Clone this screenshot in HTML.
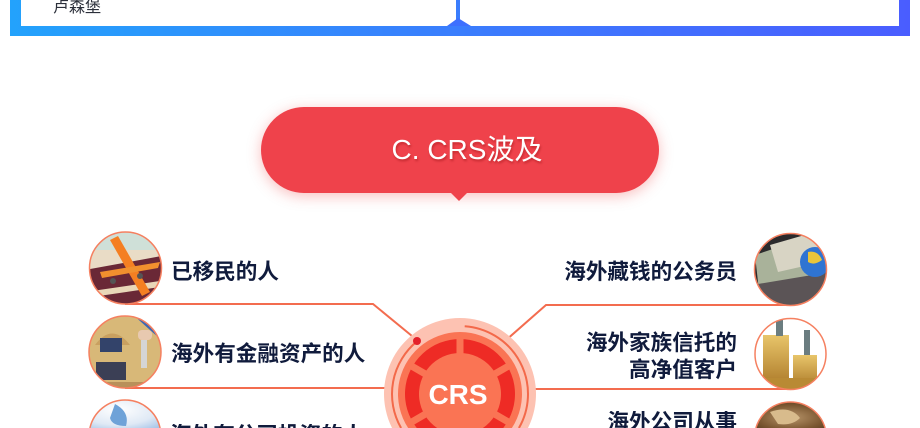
<!DOCTYPE html>
<html>
<head>
<meta charset="utf-8">
<style>
  html,body{margin:0;padding:0;width:920px;height:428px;overflow:hidden;}
  body{background:#fff;font-family:"Liberation Sans","Noto Sans CJK SC",sans-serif;}
  #wrap{position:relative;width:920px;height:428px;overflow:hidden;background:#fff;}
  .abs{position:absolute;}
  .band{left:10px;top:0;width:900px;height:36px;
    background:linear-gradient(90deg,#23a2fc 0%,#3a7dfd 50%,#4a5dff 100%);}
  .wp{background:#fff;top:0;height:26px;}
  .t{position:absolute;font-family:"Liberation Sans","Noto Sans CJK SC",sans-serif;
    font-weight:700;font-size:21.6px;line-height:22px;color:#101b3c;white-space:nowrap;}
  .r{text-align:right;right:183px;}
  .pill{left:261px;top:107px;width:398px;height:86px;border-radius:43px;background:#ef424b;
    box-shadow:0 3px 14px rgba(236,70,70,0.35);}
  .ptxt{left:261px;top:107px;width:398px;height:86px;line-height:86px;text-align:center;
    color:#fff;font-size:28px;padding-left:14px;box-sizing:border-box;
    font-family:"Liberation Sans","Noto Sans CJK SC",sans-serif;
    text-shadow:1px 2px 2px rgba(120,0,0,0.35);}
</style>
</head>
<body>
<div id="wrap">
<!-- top frame -->
<div class="abs band"></div>
<div class="abs wp" style="left:21px;width:435px;"></div>
<div class="abs wp" style="left:460px;width:439px;"></div>
<svg class="abs" style="left:0;top:0" width="920" height="40">
  <polygon points="447,26 458,18 471,26" fill="#3d6ffe"/>
</svg>
<div class="abs" style="left:53px;top:0;height:18px;overflow:hidden;font-size:16px;line-height:16px;color:#2b2f3a;font-family:'Liberation Sans','Noto Sans CJK SC',sans-serif;">卢森堡</div>

<!-- pill -->
<div class="abs pill"></div>
<svg class="abs" style="left:0;top:0" width="920" height="428">
  <polygon points="450,192 468,192 459,201" fill="#ef424b"/>
</svg>
<div class="abs ptxt">C. CRS波及</div>

<!-- diagram graphics -->
<svg class="abs" style="left:0;top:0" width="920" height="428" overflow="hidden">
  <defs>
    <clipPath id="cl1"><circle cx="125.5" cy="268" r="36"/></clipPath>
    <clipPath id="cl2"><circle cx="125" cy="352" r="36"/></clipPath>
    <clipPath id="cl3"><path d="M89.9 428 A36 36 0 0 1 160.1 428 Z"/></clipPath>
    <clipPath id="cr1"><circle cx="790.5" cy="269.5" r="36"/></clipPath>
    <clipPath id="cr2"><circle cx="790.5" cy="354" r="35.5"/></clipPath>
    <clipPath id="cr3"><path d="M755.9 428 A36 36 0 0 1 825.1 428 Z"/></clipPath>
    <radialGradient id="globe" cx="0.4" cy="0.35" r="0.9">
      <stop offset="0" stop-color="#ffffff"/>
      <stop offset="0.6" stop-color="#dfe9f5"/>
      <stop offset="1" stop-color="#9fc0e6"/>
    </radialGradient>
    <radialGradient id="bronze" cx="0.5" cy="0.6" r="0.8">
      <stop offset="0" stop-color="#b8956a"/>
      <stop offset="0.6" stop-color="#7a5630"/>
      <stop offset="1" stop-color="#4a321a"/>
    </radialGradient>
    <linearGradient id="gold" x1="0" y1="0" x2="0" y2="1">
      <stop offset="0" stop-color="#e8c56a"/>
      <stop offset="1" stop-color="#a87424"/>
    </linearGradient>
  </defs>

  <!-- connector lines -->
  <g stroke="#f36c4f" stroke-width="2" fill="none">
    <path d="M125 304 H373 L412 336"/>
    <path d="M125 388 H400"/>
    <path d="M795 305 H546 L505 341"/>
    <path d="M795 389 H520"/>
  </g>

  <!-- left photo 1: plane over passports -->
  <g clip-path="url(#cl1)">
    <rect x="85" y="228" width="82" height="82" fill="#e9dcc6"/>
    <rect x="85" y="228" width="82" height="22" fill="#cfe0d8"/>
    <polygon points="85,270 167,255 167,310 85,310" fill="#6a2836"/>
    <polygon points="85,292 167,280 167,286 85,298" fill="#e9d7b8"/>
    <polygon points="110,240 118,236 150,292 142,296" fill="#f47f22"/>
    <polygon points="100,272 160,262 158,268 102,278" fill="#f1902e"/>
    <circle cx="113" cy="281" r="3" fill="#555"/>
    <circle cx="140" cy="276" r="3" fill="#555"/>
  </g>
  <circle cx="125.5" cy="268" r="36" fill="none" stroke="#f58060" stroke-width="1.5"/>

  <!-- left photo 2: house with key -->
  <g clip-path="url(#cl2)">
    <rect x="85" y="312" width="82" height="82" fill="#d8b878"/>
    <polygon points="130,312 167,312 167,345 150,330" fill="#3d67b3"/>
    <path d="M95 345 Q112 322 130 345 Z" fill="#c9a060"/>
    <rect x="100" y="338" width="22" height="14" fill="#33436a"/>
    <rect x="96" y="362" width="30" height="18" fill="#3b3f55"/>
    <rect x="85" y="382" width="82" height="12" fill="#b8905a"/>
    <rect x="138" y="330" width="14" height="10" rx="4" fill="#e8c9b0"/>
    <rect x="141" y="340" width="6" height="28" fill="#d5d5d5"/>
  </g>
  <circle cx="125" cy="352" r="36" fill="none" stroke="#f58060" stroke-width="1.5"/>

  <!-- left photo 3: globe (cut at bottom edge) -->
  <path d="M89.9 428 A36 36 0 0 1 160.1 428 Z" fill="url(#globe)"/>
  <g clip-path="url(#cl3)">
    <path d="M115 404 Q130 412 126 426 Q112 426 110 418 Z" fill="#6ea2d8"/>
  </g>
  <path d="M89.9 428 A36 36 0 0 1 160.1 428" fill="none" stroke="#f58060" stroke-width="1.5"/>

  <!-- right photo 1: money + globe -->
  <g clip-path="url(#cr1)">
    <rect x="750" y="230" width="82" height="82" fill="#2b2a2c"/>
    <polygon points="755,255 800,240 815,290 760,300" fill="#a9b29a"/>
    <polygon points="770,245 815,232 822,262 778,272" fill="#d8d4c4"/>
    <polygon points="752,285 830,272 832,312 752,312" fill="#5b5456"/>
    <circle cx="815" cy="262" r="15" fill="#2f74d2"/>
    <path d="M808 252 Q818 250 822 260 Q814 266 808 262 Z" fill="#e9c53a"/>
  </g>
  <circle cx="790.5" cy="269.5" r="36" fill="none" stroke="#f58060" stroke-width="1.5"/>

  <!-- right photo 2: gold coins -->
  <g clip-path="url(#cr2)">
    <rect x="750" y="315" width="82" height="82" fill="#ffffff"/>
    <rect x="763" y="335" width="26" height="55" fill="url(#gold)"/>
    <rect x="793" y="355" width="24" height="35" fill="url(#gold)"/>
    <rect x="752" y="378" width="80" height="20" fill="#b98a34"/>
    <rect x="776" y="320" width="7" height="16" fill="#6b7d80"/>
    <rect x="804" y="330" width="6" height="25" fill="#6b7d80"/>
  </g>
  <circle cx="790.5" cy="354" r="35.5" fill="none" stroke="#f58060" stroke-width="1.5"/>

  <!-- right photo 3: bronze globe (cut at bottom edge) -->
  <path d="M755.9 428 A36 36 0 0 1 825.1 428 Z" fill="url(#bronze)"/>
  <g clip-path="url(#cr3)">
    <path d="M770 412 Q790 405 800 418 Q792 426 778 424 Z" fill="#d8bb8c"/>
  </g>
  <path d="M755.9 428 A36 36 0 0 1 825.1 428" fill="none" stroke="#f58060" stroke-width="1.5"/>

  <!-- CRS central circle (cut at bottom edge) -->
  <path d="M392.03 428 A76 76 0 1 1 527.97 428 Z" fill="#fdc2b2"/>
  <path d="M464.7 326.2 A68 68 0 0 1 518.9 428" fill="none" stroke="#f3694a" stroke-width="2"/>
  <path d="M401.1 428 A68 68 0 0 1 417.2 341.2" fill="none" stroke="#f3694a" stroke-width="2"/>
  <circle cx="417" cy="341" r="4" fill="#e4202a"/>
  <path d="M408.15 428 A62 62 0 1 1 511.85 428 Z" fill="#fa7454"/>
  <path d="M416.77 428 A55 55 0 1 1 503.23 428 Z" fill="#ee2b25"/>
  <g stroke="#fa7454" stroke-width="7">
    <line x1="460" y1="394" x2="460" y2="334"/>
    <line x1="460" y1="394" x2="512" y2="364"/>
    <line x1="460" y1="394" x2="510" y2="423"/>
    <line x1="460" y1="394" x2="460" y2="428"/>
    <line x1="460" y1="394" x2="410" y2="423"/>
    <line x1="460" y1="394" x2="408" y2="364"/>
  </g>
  <path d="M437.09 428 A41 41 0 1 1 482.91 428 Z" fill="#fa7454"/>
  <text x="458" y="404" text-anchor="middle" font-family="Liberation Sans, sans-serif" font-weight="700" font-size="28" fill="#ffffff">CRS</text>
</svg>

<!-- labels -->
<div class="t" style="left:171px;top:261px;">已移民的人</div>
<div class="t" style="left:171px;top:343px;">海外有金融资产的人</div>
<div class="t" style="left:170px;top:424px;height:4px;overflow:hidden;">海外有公司投资的人</div>

<div class="t r" style="top:261px;">海外藏钱的公务员</div>
<div class="t r" style="top:329px;line-height:27px;">海外家族信托的<br>高净值客户</div>
<div class="t r" style="top:411px;height:17px;overflow:hidden;">海外公司从事</div>
</div>
</body>
</html>
